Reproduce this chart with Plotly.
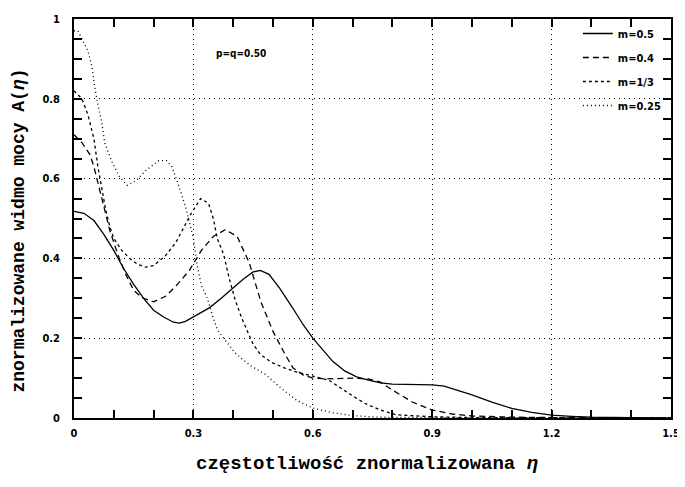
import plotly.graph_objects as go

# m = 0.5 (solid)
x_m05 = [0, 0.025, 0.05, 0.075, 0.1, 0.125, 0.15, 0.175, 0.2, 0.225, 0.25, 0.265, 0.28, 0.31, 0.34, 0.37,
         0.4, 0.425, 0.45, 0.468, 0.49, 0.517, 0.55, 0.575, 0.6, 0.625, 0.65, 0.68, 0.71, 0.74, 0.77, 0.8,
         0.85, 0.9, 0.93, 0.97, 1.0, 1.05, 1.1, 1.15, 1.2, 1.25, 1.3, 1.4, 1.5]
y_m05 = [0.518, 0.513, 0.495, 0.46, 0.42, 0.374, 0.335, 0.3, 0.27, 0.253, 0.24, 0.238, 0.242, 0.258, 0.276, 0.3,
         0.326, 0.348, 0.366, 0.37, 0.36, 0.325, 0.275, 0.235, 0.2, 0.17, 0.142, 0.118, 0.103, 0.095, 0.088, 0.085,
         0.084, 0.083, 0.08, 0.068, 0.058, 0.04, 0.024, 0.014, 0.007, 0.004, 0.002, 0.001, 0.0]

# m = 0.4 (dashed)
x_m04 = [0, 0.02, 0.04, 0.05, 0.06, 0.07, 0.08, 0.09, 0.1, 0.11, 0.13, 0.15, 0.17, 0.2, 0.23, 0.26, 0.29,
         0.32, 0.35, 0.38, 0.41, 0.44, 0.47, 0.5, 0.53, 0.55, 0.575, 0.6, 0.65, 0.7, 0.74, 0.77, 0.8, 0.85,
         0.9, 0.95, 1.0, 1.1, 1.3, 1.5]
y_m04 = [0.71, 0.69, 0.66, 0.63, 0.59, 0.55, 0.51, 0.47, 0.44, 0.41, 0.36, 0.32, 0.302, 0.291, 0.305, 0.335, 0.37,
         0.42, 0.455, 0.472, 0.455, 0.39, 0.29, 0.217, 0.16, 0.126, 0.108, 0.1, 0.098, 0.1, 0.098, 0.09, 0.07, 0.04,
         0.02, 0.01, 0.005, 0.002, 0.0005, 0.0]

# m = 1/3 (short dashes)
x_m13 = [0, 0.02, 0.035, 0.05, 0.06, 0.07, 0.08, 0.09, 0.1, 0.12, 0.14, 0.16, 0.18, 0.2, 0.23, 0.256, 0.276,
         0.293, 0.318, 0.338, 0.35, 0.36, 0.376, 0.39, 0.405, 0.42, 0.438, 0.45, 0.468, 0.495, 0.53, 0.56, 0.6,
         0.64, 0.69, 0.73, 0.77, 0.81, 0.9, 1.0, 1.5]
y_m13 = [0.82, 0.8, 0.76, 0.7, 0.63, 0.57, 0.52, 0.48, 0.45, 0.42, 0.40, 0.385, 0.378, 0.382, 0.407, 0.44, 0.48,
         0.51, 0.55, 0.538, 0.5, 0.45, 0.41, 0.35, 0.296, 0.254, 0.212, 0.185, 0.16, 0.14, 0.125, 0.115, 0.105,
         0.095, 0.062, 0.037, 0.02, 0.008, 0.003, 0.001, 0.0]

# m = 0.25 (dotted)
x_m025 = [0, 0.01, 0.035, 0.045, 0.052, 0.06, 0.07, 0.077, 0.094, 0.114, 0.134, 0.156, 0.18, 0.213, 0.233,
          0.246, 0.264, 0.28, 0.3, 0.31, 0.32, 0.335, 0.35, 0.36, 0.376, 0.405, 0.42, 0.445, 0.48, 0.52, 0.56,
          0.6, 0.65, 0.7, 0.76, 0.9, 1.5]
y_m025 = [0.97, 0.97, 0.92, 0.88, 0.83, 0.785, 0.74, 0.69, 0.645, 0.605, 0.583, 0.595, 0.62, 0.645, 0.645,
          0.63, 0.58, 0.53, 0.45, 0.38, 0.333, 0.3, 0.25, 0.222, 0.2, 0.163, 0.15, 0.13, 0.11, 0.075, 0.044,
          0.025, 0.013, 0.006, 0.002, 0.001, 0.0]

series_names = ["m=0.5", "m=0.4", "m=1/3", "m=0.25"]
x_major_step = 0.3
x_minor_step = 0.1
y_major_step = 0.2
y_minor_step = 0.05

tick_font = dict(family="Liberation Sans Narrow, DejaVu Sans Condensed, Liberation Sans", size=11,
                 color="black", weight="bold")

fig = go.Figure()
styles = [
    (x_m05, y_m05, "solid"),
    (x_m04, y_m04, "6px,4px"),
    (x_m13, y_m13, "3px,3px"),
    (x_m025, y_m025, "1px,3px"),
]
for i, (xs, ys, dash) in enumerate(styles):
    fig.add_trace(go.Scatter(
        x=xs, y=ys, mode="lines", name=series_names[i], legendgroup=f"g{i}",
        line=dict(color="black", width=1.3, dash=dash),
    ))

fig.update_xaxes(
    range=[0, 1.5], tickmode="linear", tick0=0, dtick=x_major_step,
    showline=True, linecolor="black", linewidth=1.6, mirror="allticks",
    ticks="inside", ticklen=8, tickwidth=1.5, tickcolor="black",
    showgrid=True, gridcolor="black", gridwidth=1, griddash="1px,4px",
    zeroline=False, tickfont=tick_font, tickformat="~g", ticklabelstandoff=4,
    ticklabeloverflow="allow",
    minor=dict(dtick=x_minor_step, tick0=0, ticks="inside", ticklen=8, tickwidth=1.5, tickcolor="black",
               showgrid=False),
)
fig.update_yaxes(
    range=[0, 1], tickmode="linear", tick0=0, dtick=y_major_step,
    showline=True, linecolor="black", linewidth=1.6, mirror="allticks",
    ticks="inside", ticklen=8, tickwidth=1.5, tickcolor="black",
    showgrid=True, gridcolor="black", gridwidth=1, griddash="1px,4px",
    zeroline=False, tickfont=tick_font, tickformat="~g", ticklabelstandoff=10,
    ticklabeloverflow="allow",
    minor=dict(dtick=y_minor_step, tick0=0, ticks="inside", ticklen=8, tickwidth=1.5, tickcolor="black",
               showgrid=False),
)

fig.add_annotation(text="p=q=0.50", x=0.42, y=0.913, xref="x", yref="y", showarrow=False,
                   font=dict(family="Liberation Sans Narrow, DejaVu Sans Condensed", size=10, color="black",
                             weight="bold"))

fig.add_annotation(text="częstotliwość znormalizowana <i>η</i>", xref="paper", yref="paper",
                   x=0.491, y=-0.116, showarrow=False, xanchor="center", yanchor="middle",
                   font=dict(family="Liberation Mono", size=19, color="black", weight="bold"))
fig.add_annotation(text="znormalizowane widmo mocy A(<i>η</i>)", xref="paper", yref="paper",
                   x=-0.092, y=0.47, showarrow=False, textangle=-90, xanchor="center", yanchor="middle",
                   font=dict(family="Liberation Mono", size=18, color="black", weight="bold"))

# the page body adds an 8px offset; size and margins account for it
fig.update_layout(
    width=677, height=479,
    margin=dict(l=66, r=9, t=5, b=69),
    paper_bgcolor="white", plot_bgcolor="white",
    showlegend=True,
    legend=dict(x=0.844, y=1.0, xanchor="left", yanchor="top", bgcolor="rgba(0,0,0,0)",
                tracegroupgap=5,
                font=dict(family="Liberation Sans Narrow, DejaVu Sans Condensed", size=11, color="black",
                          weight="bold")),
)

fig.write_html("out.html")
